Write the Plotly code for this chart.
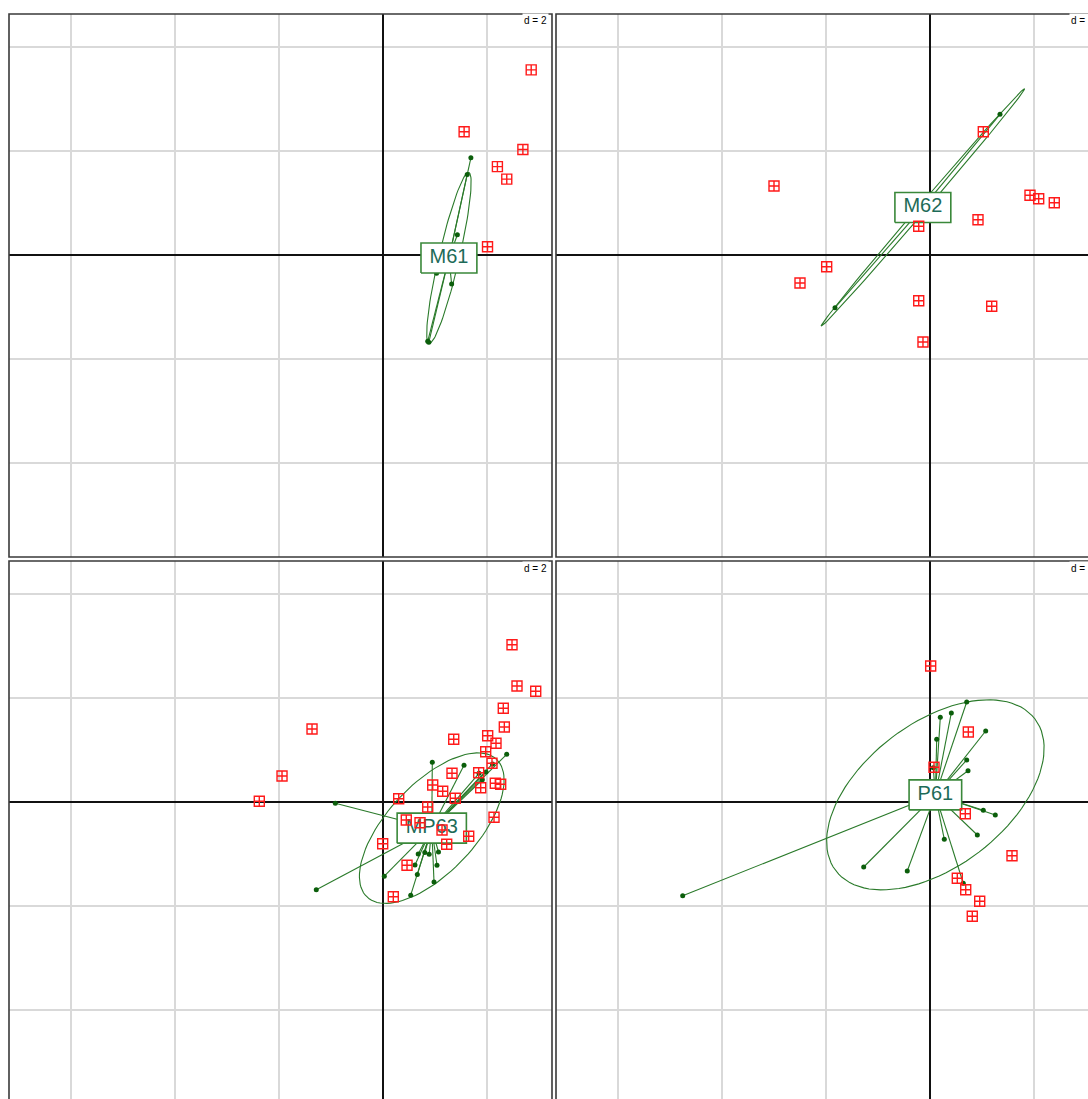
import numpy as np
import plotly.graph_objects as go

# ---------------- data ----------------
class_labels = ["M61", "M62", "MP63", "P61"]

# members of each class (green dots) and other individuals (red squares)
M61_x = [1.69, 1.62, 1.43, 1.03, 1.32, 0.88, 0.86, 1.052, 1.513, 1.283]
M61_y = [1.87, 1.55, 0.39, -0.35, -0.56, -1.68, -1.66, 0.004, -0.10, -0.048]
M61_other_x = [2.85, 1.56, 2.69, 2.20, 2.38, 2.01]
M61_other_y = [3.56, 2.37, 2.03, 1.70, 1.46, 0.16]

M62_x = [1.346, -1.827, 0.069]
M62_y = [2.706, -1.013, 1.05]
M62_other_x = [-3.0, 1.025, 1.923, 2.09, 2.39, 0.923, -0.217, -1.987, -2.5, -0.217, 1.187, -0.135]
M62_other_y = [1.327, 2.371, 1.148, 1.083, 1.006, 0.679, 0.552, -0.225, -0.538, -0.879, -0.987, -1.673]

MP63_x = [0.948, 1.558, 2.379, 2.106, 1.910, 1.846, -0.917, -1.283, 0.025, 0.533,
          0.981, 0.660, 1.038, 1.067, 0.615, 0.677, 0.804, 0.888, 1.981]
MP63_y = [0.763, 0.706, 0.917, 0.731, 0.427, 0.552, -0.025, -1.687, -1.427, -1.792,
          -1.538, -1.394, -1.217, -0.962, -1.212, -1.0, -0.971, -1.006, 0.577]
MP63_other_x = [2.481, 2.577, 2.937, 2.313, 2.333, -1.365, 1.360, 2.013, 2.173, 1.975,
                2.096, -1.942, 1.840, 1.327, 0.956, 1.879, 2.160, 2.263, 1.148, 1.390,
                0.302, -2.379, 0.860, 2.135, 0.448, 0.712, 1.135, 1.648, -0.006, 1.225,
                0.462, 0.198]
MP63_other_y = [3.025, 2.231, 2.129, 1.802, 1.442, 1.404, 1.206, 1.275, 1.129, 0.967,
                0.744, 0.500, 0.563, 0.552, 0.327, 0.275, 0.360, 0.340, 0.206, 0.071,
                0.063, 0.013, -0.096, -0.294, -0.346, -0.398, -0.538, -0.660, -0.802, -0.813,
                -1.217, -1.821]

P61_x = [0.706, 0.198, 0.410, 1.071, 0.129, 0.706, 0.731, 0.063, 1.025, 1.256,
         0.910, 0.275, -0.437, -1.275, 0.640, -4.756]
P61_y = [1.923, 1.629, 1.712, 1.365, 1.206, 0.808, 0.602, 0.660, -0.160, -0.250,
         -0.635, -0.717, -1.327, -1.250, -1.563, -1.802]
P61_other_x = [0.013, 0.737, 0.077, 0.679, 1.577, 0.525, 0.687, 0.956, 0.813]
P61_other_y = [2.615, 1.346, 0.667, -0.225, -1.033, -1.467, -1.687, -1.910, -2.198]

grid_step = 2  # "d = 2"

# ---------------- layout geometry / styles ----------------
W, H = 1088, 1099
PANEL = 543                          # panel side in px
SCALE = 52.0                         # px per unit
ORIGIN_DX, ORIGIN_DY = 374, 241
panel_corners = [(9, 14), (556, 14), (9, 561), (556, 561)]

GREEN_LINE = "#2a7a2a"
GREEN_DOT = "#0b5e0b"
BOX_LINE = "#3a883a"
LABEL_COLOR = "#1d6b58"
RED = "#ff1a1a"
FONT = "Arial, Liberation Sans, sans-serif"
LABEL_SIZE = 20
CHAR_W = {"M": 0.833, "P": 0.667}


def ellipse(xs, ys, coeff=1.5, n=100):
    x = np.asarray(xs, float)
    y = np.asarray(ys, float)
    mx, my = x.mean(), y.mean()
    cov = np.cov(np.vstack([x, y]), bias=True)
    vals, vecs = np.linalg.eigh(cov)
    t = np.linspace(0, 2 * np.pi, n + 1)
    circ = np.vstack([np.cos(t), np.sin(t)]) * np.sqrt(np.clip(vals, 0, None))[:, None]
    pts = vecs @ circ
    return mx + coeff * pts[0], my + coeff * pts[1]


panels = [
    (M61_x, M61_y, M61_other_x, M61_other_y),
    (M62_x, M62_y, M62_other_x, M62_other_y),
    (MP63_x, MP63_y, MP63_other_x, MP63_other_y),
    (P61_x, P61_y, P61_other_x, P61_other_y),
]

fig = go.Figure()
layout = dict(
    width=W, height=H, margin=dict(l=0, r=0, t=0, b=0),
    paper_bgcolor="white", plot_bgcolor="white", showlegend=False,
    font=dict(family=FONT), shapes=[], annotations=[], hovermode=False,
)

for i, ((gx, gy, rx, ry), lab, (left, top)) in enumerate(zip(panels, class_labels, panel_corners)):
    k = "" if i == 0 else str(i + 1)
    xa, ya = "x" + k, "y" + k

    vis_right = min(left + PANEL, W)
    vis_bottom = min(top + PANEL, H)
    x0 = -ORIGIN_DX / SCALE
    x1 = x0 + (vis_right - left) / SCALE
    y1 = ORIGIN_DY / SCALE
    y0 = y1 - (vis_bottom - top) / SCALE

    ax_common = dict(showgrid=True, gridcolor="#d9d9d9", gridwidth=1.1,
                     dtick=grid_step, tick0=0, zeroline=True, zerolinecolor="#111111",
                     zerolinewidth=1.1, showticklabels=False, ticks="", showline=False,
                     fixedrange=True)
    layout["xaxis" + k] = dict(ax_common, domain=[left / W, vis_right / W], range=[x0, x1],
                               anchor=ya)
    layout["yaxis" + k] = dict(ax_common, domain=[1 - vis_bottom / H, 1 - top / H],
                               range=[y0, y1], anchor=xa)

    mx, my = float(np.mean(gx)), float(np.mean(gy))

    # ellipse
    ex, ey = ellipse(gx, gy)
    fig.add_trace(go.Scatter(x=ex, y=ey, mode="lines", xaxis=xa, yaxis=ya,
                             line=dict(color=GREEN_LINE, width=1.1), hoverinfo="skip"))
    # star lines
    sx, sy = [], []
    for px, py in zip(gx, gy):
        sx += [mx, px, None]
        sy += [my, py, None]
    fig.add_trace(go.Scatter(x=sx, y=sy, mode="lines", xaxis=xa, yaxis=ya,
                             line=dict(color=GREEN_LINE, width=1.1), hoverinfo="skip"))
    # member points
    fig.add_trace(go.Scatter(x=gx, y=gy, mode="markers", xaxis=xa, yaxis=ya,
                             marker=dict(color=GREEN_DOT, size=5), hoverinfo="skip"))
    # label box
    tw = sum(CHAR_W.get(c, 0.556) for c in lab) * LABEL_SIZE + 17
    hw = tw / 2 / SCALE
    hh = 15 / SCALE
    fig.add_trace(go.Scatter(x=[mx - hw, mx + hw, mx + hw, mx - hw, mx - hw],
                             y=[my - hh, my - hh, my + hh, my + hh, my - hh],
                             mode="lines", fill="toself", fillcolor="white",
                             xaxis=xa, yaxis=ya,
                             line=dict(color=BOX_LINE, width=1.6), hoverinfo="skip"))
    fig.add_trace(go.Scatter(x=[mx], y=[my], mode="text", text=[lab],
                             textposition="middle center", xaxis=xa, yaxis=ya,
                             textfont=dict(size=LABEL_SIZE, color=LABEL_COLOR, family=FONT),
                             hoverinfo="skip"))
    # other individuals
    fig.add_trace(go.Scatter(x=rx, y=ry, mode="markers", xaxis=xa, yaxis=ya,
                             marker=dict(symbol="square-cross-open", size=10, color=RED,
                                         line=dict(color=RED, width=1.4)),
                             hoverinfo="skip"))

    # panel border
    layout["shapes"].append(dict(type="rect", xref="paper", yref="paper",
                                 x0=left / W, x1=(left + PANEL) / W,
                                 y0=1 - (top + PANEL) / H, y1=1 - top / H,
                                 line=dict(color="#3a3a3a", width=1.6), layer="above"))
    # d = 2 label
    layout["annotations"].append(dict(xref="paper", yref="paper",
                                      x=(left + PANEL - 3) / W, y=1 - (top + 7) / H,
                                      xanchor="right", yanchor="middle",
                                      text=f"d = {grid_step}", showarrow=False,
                                      bgcolor="white", borderpad=1,
                                      font=dict(size=10, color="black", family=FONT)))

fig.update_layout(**layout)
fig.write_html("out.html",
               config={"displayModeBar": False, "staticPlot": True},
               post_script="document.body.style.margin='0px';"
                           "document.body.style.overflow='hidden';")
